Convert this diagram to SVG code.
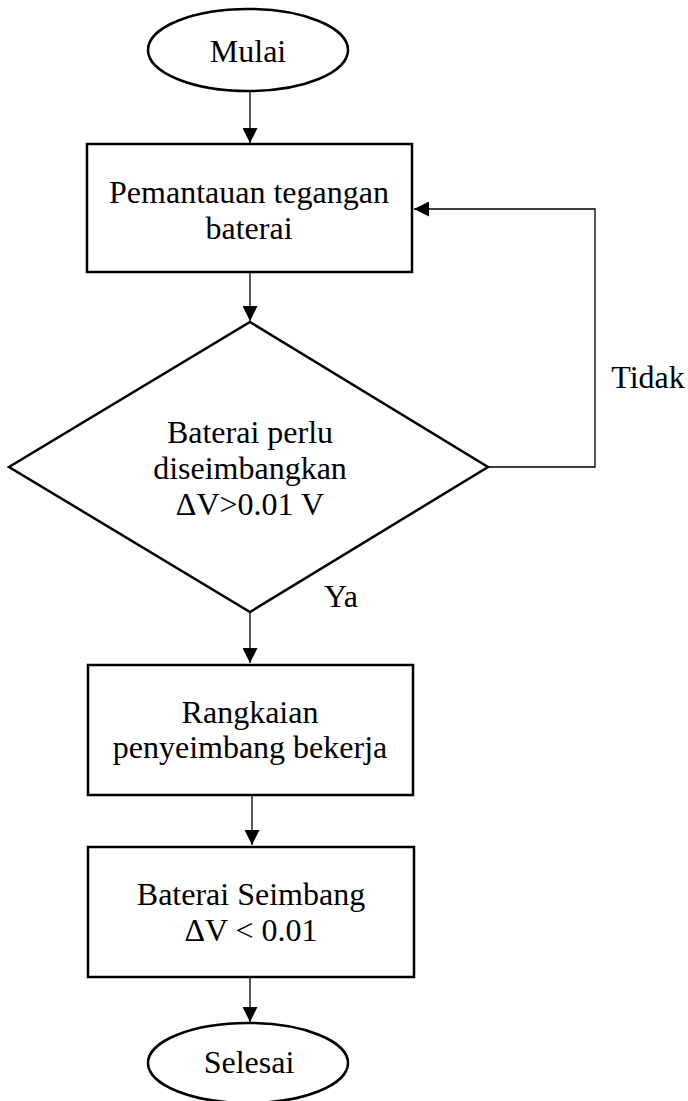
<svg xmlns="http://www.w3.org/2000/svg" width="688" height="1101" viewBox="0 0 688 1101">
<style>
.sh{fill:#fff;stroke:#000;stroke-width:2.5}
.cn{fill:none;stroke:#000;stroke-width:1.3}
text{font-family:"Liberation Serif","Times New Roman",serif;font-size:32px;fill:#000;text-anchor:middle}
</style>
<defs>
<marker id="ah" viewBox="0 0 15 15" refX="15" refY="7.5" markerWidth="15" markerHeight="15" markerUnits="userSpaceOnUse" orient="auto">
<path d="M0,0 L15,7.5 L0,15 Z" fill="#000"/>
</marker>
</defs>
<rect width="688" height="1101" fill="#fff"/>
<g id="connectors">
<line class="cn" x1="250" y1="92" x2="250" y2="143" marker-end="url(#ah)"/>
<line class="cn" x1="250" y1="273" x2="250" y2="321" marker-end="url(#ah)"/>
<polyline class="cn" points="488,467 595,467 595,209 414,209" marker-end="url(#ah)"/>
<line class="cn" x1="250" y1="613" x2="250" y2="663" marker-end="url(#ah)"/>
<line class="cn" x1="252" y1="796" x2="252" y2="845" marker-end="url(#ah)"/>
<line class="cn" x1="250" y1="978" x2="250" y2="1022" marker-end="url(#ah)"/>
<text x="648" y="388">Tidak</text>
<text x="341" y="607">Ya</text>
</g>
<g id="start">
<ellipse class="sh" cx="248" cy="50" rx="100" ry="41"/>
<text x="248" y="62">Mulai</text>
</g>
<g id="monitor">
<rect class="sh" x="87" y="144" width="325" height="128"/>
<text x="249" y="203">Pemantauan tegangan</text>
<text x="249" y="239">baterai</text>
</g>
<g id="decision">
<polygon class="sh" points="250,322 488,467 250,612 9,467"/>
<text x="250" y="443">Baterai perlu</text>
<text x="250" y="479">diseimbangkan</text>
<text x="250" y="515">ΔV&gt;0.01 V</text>
</g>
<g id="balancer">
<rect class="sh" x="88" y="665" width="325" height="130"/>
<text x="250" y="723">Rangkaian</text>
<text x="250" y="758">penyeimbang bekerja</text>
</g>
<g id="balanced">
<rect class="sh" x="88" y="847" width="326" height="130"/>
<text x="251" y="905">Baterai Seimbang</text>
<text x="251" y="941">ΔV &lt; 0.01</text>
</g>
<g id="end">
<ellipse class="sh" cx="248" cy="1063" rx="100" ry="40"/>
<text x="249" y="1073">Selesai</text>
</g>
</svg>
